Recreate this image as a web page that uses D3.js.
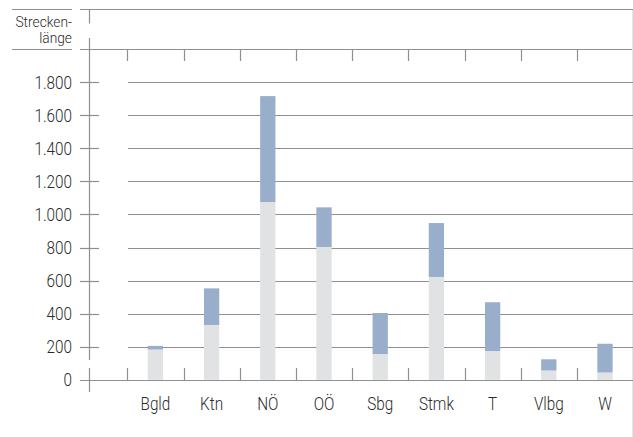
<!DOCTYPE html>
<html><head><meta charset="utf-8">
<script src="https://cdn.jsdelivr.net/npm/d3@7"></script>
<style>
html,body{margin:0;padding:0;background:#fff;}
svg{display:block;}
text{font-family:Roboto,"DejaVu Sans",sans-serif;font-weight:300;fill:#2a2a2a;}
</style></head>
<body>
<svg id="chart" width="633" height="437"></svg>
<script>
const categories = ["Bgld","Ktn","NÖ","OÖ","Sbg","Stmk","T","Vlbg","W"];
const baseValues = [182, 330, 1073, 803, 154, 622, 172, 55, 43];
const totalValues = [205, 553, 1716, 1043, 404, 948, 469, 124, 218];
const yTicks = [0,200,400,600,800,1000,1200,1400,1600,1800];
const yTickLabels = ["0","200","400","600","800","1.000","1.200","1.400","1.600","1.800"];
const titleLines = ["Strecken-","länge"];

const svg = d3.select("#chart");
const gridColor = "#8f8f8f";
const SX = 0.85;

const x = d3.scaleBand().domain(categories).range([127.3, 633.1]).paddingInner(0.728).paddingOuter(0.364);
const y = d3.scaleLinear().domain([0,1800]).range([379.8, 82.2]);
const step = x.step();
const bandStart = 127.3;

function label(px, py, str, size, anchor, sx) {
  return svg.append("text")
    .attr("transform", `translate(${px},${py}) scale(${sx},1)`)
    .attr("text-anchor", anchor).attr("font-size", size).text(str);
}

// header lines
[9.5, 49.5].forEach(yy => {
  svg.append("line").attr("x1",12).attr("x2",72).attr("y1",yy).attr("y2",yy).attr("stroke",gridColor).attr("stroke-width",1.2);
  svg.append("line").attr("x1",80).attr("x2",633).attr("y1",yy).attr("y2",yy).attr("stroke",gridColor).attr("stroke-width",1.2);
});
svg.append("line").attr("x1",632.5).attr("x2",632.5).attr("y1",10).attr("y2",437).attr("stroke","#e6e6e6").attr("stroke-width",1);

// title
label(72, 27, titleLines[0], 14.5, "end", 0.95);
label(72, 43, titleLines[1], 14.5, "end", 0.95);

// vertical axis line
svg.append("line").attr("x1",89.5).attr("x2",89.5).attr("y1",9.5).attr("y2",23.5).attr("stroke",gridColor).attr("stroke-width",1.2);
svg.append("line").attr("x1",89.5).attr("x2",89.5).attr("y1",38).attr("y2",360).attr("stroke",gridColor).attr("stroke-width",1.2);
svg.append("line").attr("x1",89.5).attr("x2",89.5).attr("y1",368).attr("y2",392).attr("stroke",gridColor).attr("stroke-width",1.2);

// y tick labels
yTicks.forEach((v,i) => {
  label(72, y(v) + 6.5, yTickLabels[i], 18, "end", SX);
});

// gridlines
yTicks.forEach(v => {
  const yy = Math.round(y(v)) + 0.5;
  if (v === 0) {
    svg.append("line").attr("x1",80).attr("x2",633).attr("y1",yy).attr("y2",yy).attr("stroke",gridColor).attr("stroke-width",1.2);
  } else {
    svg.append("line").attr("x1",80).attr("x2",99).attr("y1",yy).attr("y2",yy).attr("stroke",gridColor).attr("stroke-width",1.2);
    svg.append("line").attr("x1",128).attr("x2",633).attr("y1",yy).attr("y2",yy).attr("stroke",gridColor).attr("stroke-width",1.2);
  }
});

// band ticks (bottom and top)
categories.forEach((c,i) => {
  const xx = Math.round(bandStart + i*step) + 0.5;
  svg.append("line").attr("x1",xx).attr("x2",xx).attr("y1",368).attr("y2",380).attr("stroke",gridColor).attr("stroke-width",1.2);
  svg.append("line").attr("x1",xx).attr("x2",xx).attr("y1",49.5).attr("y2",61).attr("stroke",gridColor).attr("stroke-width",1.2);
});

// bars
const bars = svg.append("g");
categories.forEach((c,i) => {
  bars.append("rect").attr("x",x(c)).attr("width",x.bandwidth())
    .attr("y",y(totalValues[i])).attr("height",y(baseValues[i]) - y(totalValues[i]))
    .attr("fill","#99aecb");
  bars.append("rect").attr("x",x(c)).attr("width",x.bandwidth())
    .attr("y",y(baseValues[i])).attr("height",y(0) - y(baseValues[i]))
    .attr("fill","#e1e2e4");
});

// x labels
categories.forEach(c => {
  label(x(c)+x.bandwidth()/2, 410, c, 18, "middle", SX);
});
</script>
</body></html>
